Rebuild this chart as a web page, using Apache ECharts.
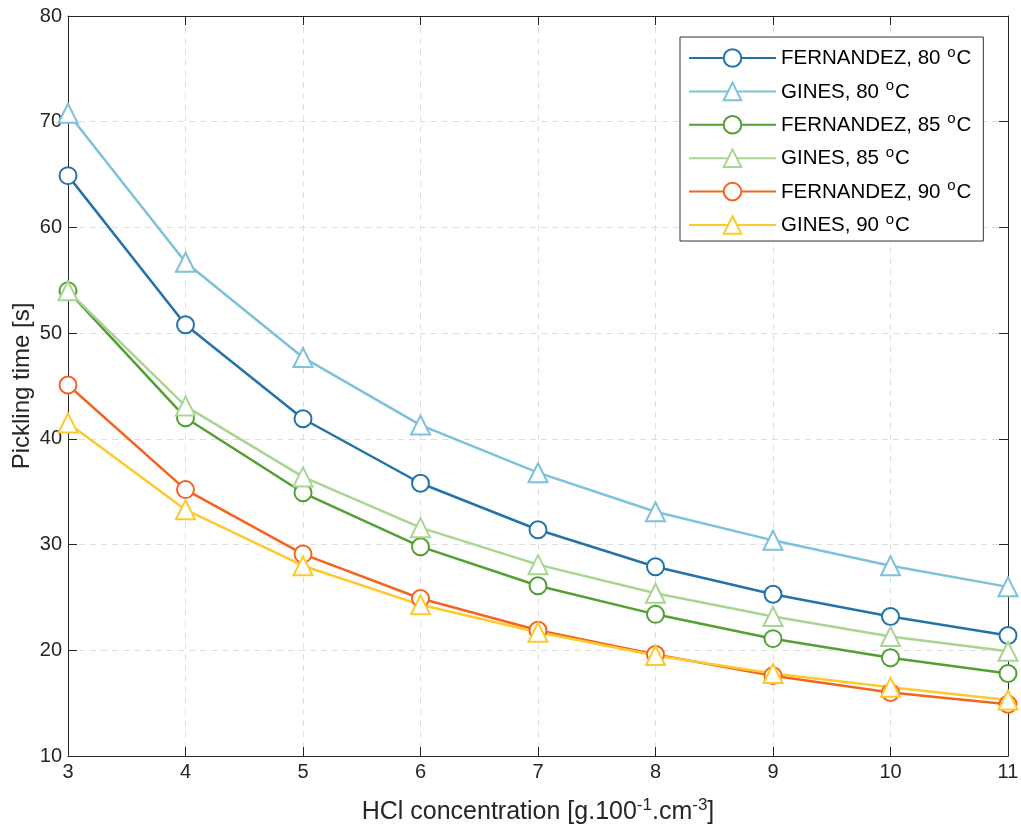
<!DOCTYPE html>
<html><head><meta charset="utf-8">
<script src="https://cdn.jsdelivr.net/npm/echarts@6/dist/echarts.min.js"></script>
<style>html,body{margin:0;padding:0;background:#fff}#c{width:1021px;height:830px}</style>
</head><body><div id="c"></div>
<script>
const concentrations = [3, 4, 5, 6, 7, 8, 9, 10, 11];
const fernandez80 = [64.9, 50.8, 41.9, 35.8, 31.4, 27.9, 25.3, 23.2, 21.4];
const gines80 = [70.8, 56.7, 47.7, 41.3, 36.8, 33.1, 30.4, 28.0, 26.0];
const fernandez85 = [54.0, 42.0, 34.9, 29.8, 26.1, 23.4, 21.1, 19.3, 17.8];
const gines85 = [54.0, 43.1, 36.4, 31.6, 28.1, 25.4, 23.2, 21.3, 19.9];
const fernandez90 = [45.1, 35.2, 29.1, 24.9, 21.9, 19.6, 17.6, 16.0, 14.9];
const gines90 = [41.5, 33.3, 28.0, 24.3, 21.7, 19.5, 17.8, 16.5, 15.3];
const yTicks = [10, 20, 30, 40, 50, 60, 70, 80];

const seriesDefs = [
  {name: 'FERNANDEZ, 80 oC', data: fernandez80, color: '#2473a8', symbol: 'emptyCircle'},
  {name: 'GINES, 80 oC', data: gines80, color: '#7dc1da', symbol: 'emptyTriangle'},
  {name: 'FERNANDEZ, 85 oC', data: fernandez85, color: '#52a032', symbol: 'emptyCircle'},
  {name: 'GINES, 85 oC', data: gines85, color: '#a9d594', symbol: 'emptyTriangle'},
  {name: 'FERNANDEZ, 90 oC', data: fernandez90, color: '#f4641f', symbol: 'emptyCircle'},
  {name: 'GINES, 90 oC', data: gines90, color: '#fdca2e', symbol: 'emptyTriangle'}
];

const txt = '#262626';
const font = 'Liberation Sans, Arial, Helvetica, sans-serif';
const chart = echarts.init(document.getElementById('c'), null, {renderer: 'canvas'});

const axisCommon = {
  min: 3, max: 11, interval: 1, type: 'value',
  axisLine: {show: true, onZero: false, lineStyle: {color: txt, width: 1}},
  axisTick: {show: true, inside: true, length: 9, lineStyle: {color: txt}},
};

chart.setOption({
  backgroundColor: '#fff',
  animation: false,
  textStyle: {fontFamily: font, color: txt},
  grid: {left: 68, right: 13, top: 16, bottom: 74, containLabel: false, outerBoundsMode: 'none'},
  legend: {
    orient: 'vertical', left: 680, top: 37,
    itemWidth: 87, itemHeight: 22, itemGap: 9.4,
    padding: [8, 12, 5, 8],
    borderColor: '#333', borderWidth: 1, backgroundColor: '#fff',
    data: seriesDefs.map(s => s.name),
    formatter: function (name) {
      const base = name.slice(0, name.length - 3);
      return '{n|' + base + ' }{s|o}{n|C}';
    },
    textStyle: {
      fontFamily: font, color: '#000',
      rich: {
        n: {fontSize: 20.5, fontFamily: font, color: '#000', verticalAlign: 'bottom', lineHeight: 22},
        s: {fontSize: 15, fontFamily: font, color: '#000', verticalAlign: 'bottom', lineHeight: 12, padding: [0, 1, 9, 1]}
      }
    }
  },
  xAxis: [
    Object.assign({}, axisCommon, {
      position: 'bottom',
      name: '{n|HCl concentration [g.100}{s|-1}{n|.cm}{s|-3}{n|]}',
      nameLocation: 'middle', nameGap: 41, nameMoveOverlap: false,
      nameTextStyle: {
        rich: {
          n: {fontSize: 25, fontFamily: font, color: txt, verticalAlign: 'bottom', lineHeight: 28},
          s: {fontSize: 17, fontFamily: font, color: txt, verticalAlign: 'bottom', lineHeight: 16, padding: [0, 0, 11, 0]}
        }
      },
      axisLabel: {show: true, fontSize: 20, color: txt, fontFamily: font, margin: 6},
      splitLine: {show: true, lineStyle: {color: '#dedede', type: [6, 5], width: 1}}
    }),
    Object.assign({}, axisCommon, {
      position: 'top',
      axisLabel: {show: false},
      splitLine: {show: false}
    })
  ],
  yAxis: [
    {
      type: 'value', min: 10, max: 80, interval: 10, position: 'left',
      name: 'Pickling time [s]', nameLocation: 'middle', nameGap: 34, nameMoveOverlap: false,
      nameTextStyle: {fontSize: 24, color: txt, fontFamily: font},
      axisLine: {show: true, onZero: false, lineStyle: {color: txt, width: 1}},
      axisTick: {show: true, inside: true, length: 9, lineStyle: {color: txt}},
      axisLabel: {show: true, fontSize: 20, color: txt, fontFamily: font, margin: 6,
        formatter: v => (yTicks.indexOf(v) >= 0 ? String(v) : '')},
      splitLine: {show: true, lineStyle: {color: '#dedede', type: [6, 5], width: 1}}
    },
    {
      type: 'value', min: 10, max: 80, interval: 10, position: 'right',
      axisLine: {show: true, onZero: false, lineStyle: {color: txt, width: 1}},
      axisTick: {show: true, inside: true, length: 9, lineStyle: {color: txt}},
      axisLabel: {show: false},
      splitLine: {show: false}
    }
  ],
  series: seriesDefs.map(s => ({
    name: s.name,
    type: 'line',
    xAxisIndex: 0, yAxisIndex: 0,
    data: concentrations.map((c, i) => [c, s.data[i]]),
    symbol: s.symbol,
    symbolSize: s.symbol === 'emptyCircle' ? 17 : 19,
    showAllSymbol: true,
    color: s.color,
    lineStyle: {color: s.color, width: 2.5},
    itemStyle: {color: s.color, borderColor: s.color, borderWidth: 2.5},
    emphasis: {disabled: true}
  }))
});
</script>
</body></html>
